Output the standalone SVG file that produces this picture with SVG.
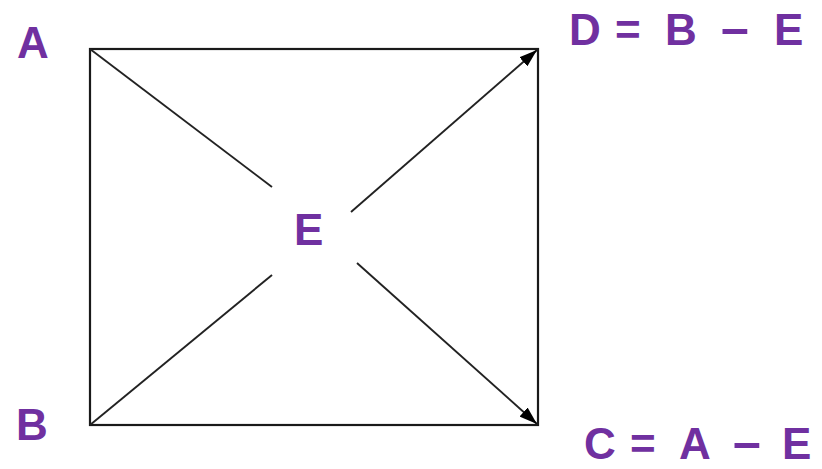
<svg xmlns="http://www.w3.org/2000/svg" width="822" height="469" viewBox="0 0 822 469">
<style>
.lbl{font-family:"Liberation Sans",Arial,sans-serif;font-weight:bold;font-size:44px;fill:#7030a0}
.frame{fill:none;stroke:#1a1a1a;stroke-width:2.2}
.ln{stroke:#222;stroke-width:1.9;fill:none}
</style>
<defs>
<marker id="ah" viewBox="0 0 18 12" refX="18" refY="6" markerWidth="18" markerHeight="12" markerUnits="userSpaceOnUse" orient="auto">
<path d="M0,0 L18,6 L0,12 Z" fill="#000"/>
</marker>
</defs>
<rect width="822" height="469" fill="#fff"/>
<rect id="frame" class="frame" x="90" y="49" width="448" height="376"/>
<g id="connectors">
<line class="ln" x1="90" y1="49" x2="272" y2="187"/>
<line class="ln" x1="90" y1="425" x2="272" y2="275"/>
<line class="ln" x1="351" y1="212" x2="537" y2="50" marker-end="url(#ah)"/>
<line class="ln" x1="357" y1="263" x2="537" y2="424" marker-end="url(#ah)"/>
</g>
<g id="A"><text class="lbl" x="17" y="58">A</text></g>
<g id="B"><text class="lbl" x="16" y="440">B</text></g>
<g id="E"><text class="lbl" x="294" y="245">E</text></g>
<g id="D"><text class="lbl" y="45"><tspan x="569">D</tspan><tspan x="615">=</tspan><tspan x="665">B</tspan><tspan x="721" font-size="50">–</tspan><tspan x="774">E</tspan></text></g>
<g id="C"><text class="lbl" y="459"><tspan x="584">C</tspan><tspan x="630">=</tspan><tspan x="679">A</tspan><tspan x="733" font-size="50">–</tspan><tspan x="782">E</tspan></text></g>
</svg>
